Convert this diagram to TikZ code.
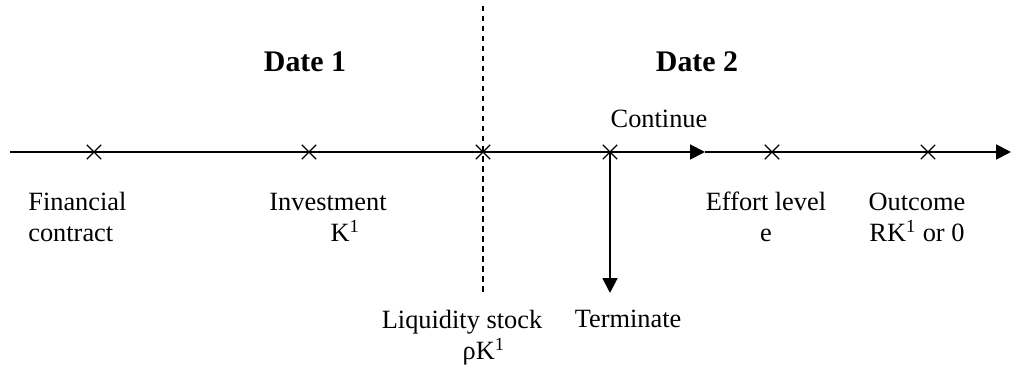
\documentclass[tikz,border=0pt]{standalone}
\usepackage{fontspec}
\setmainfont{Liberation Serif}
\usetikzlibrary{arrows.meta,shapes.misc}
\tikzset{
	xmark/.style={shape=cross out,draw=black,minimum size=7.5pt,inner sep=0pt,line width=0.7pt},
	lbl/.style={align=center,font=\fontsize{15}{18}\selectfont,anchor=base,inner sep=0pt},
	datelbl/.style={lbl,font=\fontsize{17}{20}\selectfont\bfseries},
	tip/.style={line width=1.1pt,-{Triangle[length=8.5pt,width=8.5pt]}}
}
\begin{document}
\begin{tikzpicture}
				\useasboundingbox (0,0) rectangle (20.22,7.4);
				\coordinate (start) at (0.2,4.36);
				\coordinate (mid) at (14.1,4.36);
				\coordinate (end) at (20.22,4.36);
				\coordinate (dtop) at (9.66,7.28);
				\coordinate (dbot) at (9.66,1.54);
				\coordinate (tend) at (12.2,1.54);

				\draw[tip] (start) -- (mid);
				\draw[tip] (mid) -- (end);
				\draw[dashed,line width=0.6pt,dash pattern=on 3pt off 2.7pt] (dtop) -- (dbot);

				\node[xmark] (fc) at (1.88,4.36) {};
				\node[xmark] (inv) at (6.18,4.36) {};
				\node[xmark] (liq) at (9.66,4.36) {};
				\node[xmark] (dec) at (12.2,4.36) {};
				\node[xmark] (eff) at (15.44,4.36) {};
				\node[xmark] (out) at (18.56,4.36) {};

				\draw[tip] (dec.center) -- (tend);

				\node[datelbl] (d1) at (6.1,5.96) {Date 1};
				\node[datelbl] (d2) at (13.94,5.96) {Date 2};
				\node[lbl] (cont) at (13.18,4.84) {Continue};
				\node[lbl,anchor=base west,align=left] (fcl) at (0.56,2.56) {Financial\\contract};
				\node[lbl] (invl) at (6.56,2.56) {Investment\\\hspace*{1.3em}K\textsuperscript{1}};
				\node[lbl] (effl) at (15.32,2.56) {Effort level\\e};
				\node[lbl] (outl) at (18.34,2.56) {Outcome\\RK\textsuperscript{1} or 0};
				\node[lbl] (liql) at (9.24,0.2) {Liquidity stock\\\hspace*{1.65em}ρK\textsuperscript{1}};
				\node[lbl] (terml) at (12.56,0.84) {Terminate};
			\end{tikzpicture}
\end{document}
